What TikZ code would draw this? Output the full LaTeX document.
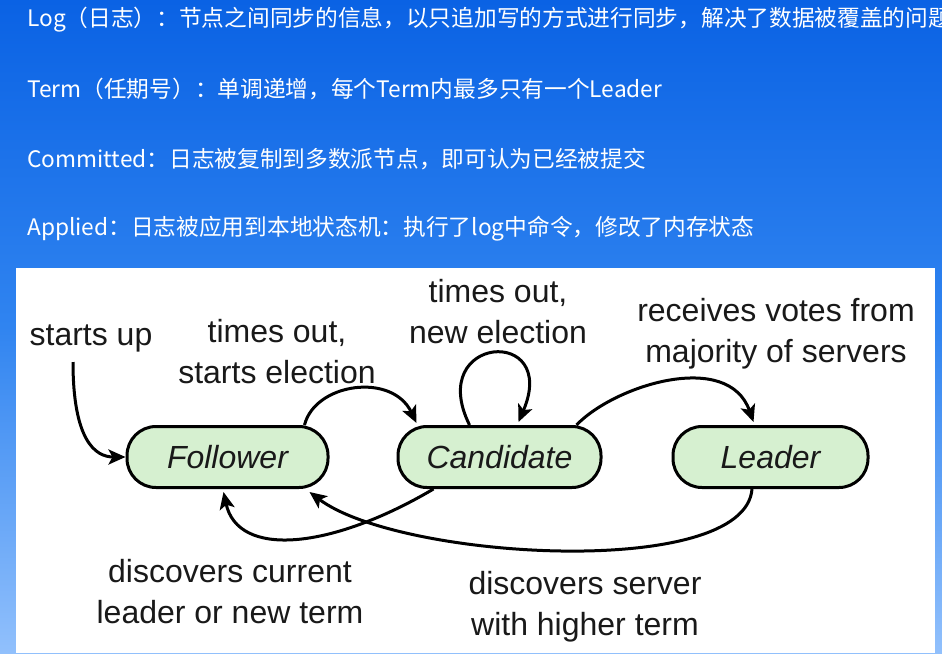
\documentclass[tikz,border=0pt]{standalone}
\usepackage{fontspec}
\newfontfamily\cjk{Noto Sans CJK SC}
\newfontfamily\arialf{Liberation Sans}
\usetikzlibrary{arrows.meta}
\definecolor{bgtop}{RGB}{10,98,228}
\definecolor{bgmid}{RGB}{48,132,240}
\definecolor{bgbot}{RGB}{145,192,252}
\definecolor{statefill}{RGB}{214,240,208}
\definecolor{ink}{RGB}{25,25,25}
\begin{document}
\begin{tikzpicture}[x=1pt,y=-1pt,
  infotext/.style={anchor=west,text=white,inner sep=0pt,font=\cjk\fontsize{22.7}{26}\selectfont},
  state/.style={draw=black,line width=3pt,fill=statefill,rounded corners=29pt,
    minimum height=61pt,inner sep=0pt,text=ink,font=\arialf\itshape\fontsize{32}{38}\selectfont},
  lbl/.style={align=center,inner sep=0pt,text=ink,font=\arialf\fontsize{32}{41}\selectfont},
  trans/.style={line width=3pt,draw=black,-{Stealth[length=17pt,width=15pt,inset=4pt]}}]
\useasboundingbox (0,0) rectangle (942,653);
\shade[top color=bgtop,bottom color=bgbot,middle color=bgmid] (0,0) rectangle (942,653);
\node[infotext] (t1) at (27,20) {Log（日志）：节点之间同步的信息，以只追加写的方式进行同步，解决了数据被覆盖的问题};
\node[infotext] (t2) at (27,89) {Term（任期号）：单调递增，每个Term内最多只有一个Leader};
\node[infotext] (t3) at (27,159) {Committed：日志被复制到多数派节点，即可认为已经被提交};
\node[infotext] (t4) at (27,229) {Applied：日志被应用到本地状态机：执行了log中命令，修改了内存状态};
\fill[white] (16,268) rectangle (935,653);
% states
\node[state,minimum width=201pt] (F) at (227.5,457) {Follower};
\node[state,minimum width=203pt] (C) at (499.5,457) {Candidate};
\node[state,minimum width=195pt] (L) at (770.5,457) {Leader};
% labels
\node[lbl] (lsu) at (91,338) {starts up};
\node[lbl] (lto) at (277,352) {times out,\\starts election};
\node[lbl] (lne) at (498,312) {times out,\\new election};
\node[lbl] (lrv) at (776,334) {receives votes from\\majority of servers};
\node[lbl] (ldc) at (230,592) {discovers current\\leader or new term};
\node[lbl] (lds) at (585,607) {discovers server\\with higher term};
% transitions
\coordinate (su) at (73,362);
\draw[trans] (su) .. controls (73,440) and (95,457) .. (F.west);
\draw[trans] ([xshift=-25pt]F.north east) .. controls (315,383) and (392,372) .. ([xshift=20pt,yshift=2pt]C.north west);
\draw[trans] ([xshift=-30pt]C.north) .. controls (425,335) and (560,325) .. ([xshift=19pt,yshift=3pt]C.north);
\draw[trans] ([xshift=-26pt]C.north east) .. controls (615,385) and (728,350) .. ([xshift=-17pt,yshift=3pt]L.north);
\draw[trans] ([xshift=37pt]C.south west) .. controls (330,550) and (238,558) .. ([xshift=-4pt,yshift=-3pt]F.south);
\draw[trans] ([xshift=-18.5pt]L.south) .. controls (745,580) and (400,560) .. ([xshift=-20pt,yshift=-3pt]F.south east);
\end{tikzpicture}
\end{document}
